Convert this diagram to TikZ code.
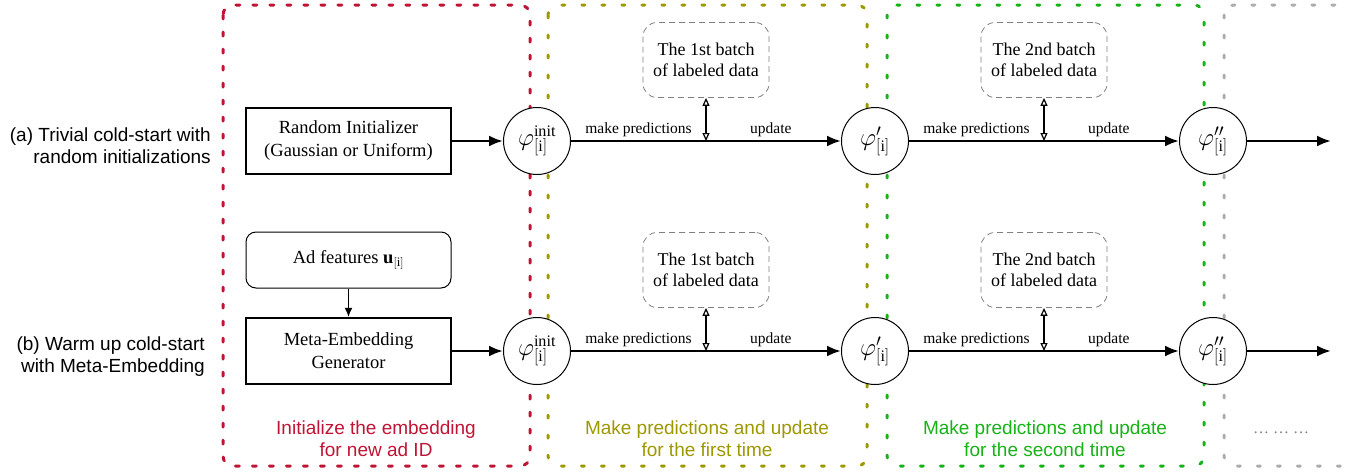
\documentclass[tikz,border=0pt]{standalone}
\usepackage{fontspec}
\setmainfont{Liberation Serif}
\newfontfamily\sflabel{Liberation Sans}
\usetikzlibrary{arrows.meta}
\definecolor{cred}{RGB}{192,20,52}
\definecolor{colive}{RGB}{158,152,0}
\definecolor{cgreen}{RGB}{22,178,22}
\definecolor{cgray}{RGB}{172,172,172}

\begin{document}
\begin{tikzpicture}
	[
	x=1pt, y=-1pt, >={Latex[length=14pt,width=11pt]},
	%Voreinstellungen
	phase/.style={line width=3pt, line cap=round, rounded corners=10pt, dash pattern=on 3pt off 17pt},
	caption/.style={font=\sflabel\fontsize{19}{22}\selectfont, align=center, inner sep=0pt},
	sidelabel/.style={font=\sflabel\fontsize{19}{22}\selectfont, align=right, inner sep=0pt, anchor=east},
	thickbox/.style={draw, line width=2.5pt, minimum width=205pt, minimum height=66pt, align=center, font=\fontsize{18.5}{23}\selectfont},
	featbox/.style={draw, line width=1pt, rounded corners=10pt, minimum width=205pt, minimum height=56pt, font=\fontsize{18.5}{23}\selectfont},
	batch/.style={draw=gray, line width=0.8pt, dash pattern=on 6pt off 4pt, rounded corners=14pt, minimum width=126pt, minimum height=75pt, align=center, font=\fontsize{18}{21}\selectfont},
	phinode/.style={draw, circle, line width=1pt, fill=white, minimum size=67pt, inner sep=0pt, font=\fontsize{23}{25}\selectfont},
	small/.style={font=\fontsize{15.5}{18}\selectfont, inner sep=3pt},
	main/.style={line width=2.5pt},
	]
	\useasboundingbox (0,0) rectangle (1348,472);

	%Phasen
	\draw [phase, cred, dash pattern=on 4pt off 13pt] (223,5) rectangle (530,466);
	\draw [phase, colive] (548,5) rectangle (867,466);
	\draw [phase, cgreen] (887,5) rectangle (1204,466);
	\begin{scope}
		\clip (0,0) rectangle (1348,472);
		\draw [phase, cgray] (1224,5) rectangle (1400,466);
	\end{scope}

	\node [caption, cred] (capinit) at (376,439) {Initialize the embedding\\for new ad ID};
	\node [caption, colive] (capfirst) at (707,439) {Make predictions and update\\for the first time};
	\node [caption, cgreen] (capsecond) at (1045,439) {Make predictions and update\\for the second time};
	\node [gray, font=\fontsize{16}{18}\selectfont] (dots) at (1281,433) {… … …};

	%Beschriftung links
	\node [sidelabel] (labela) at (211,146) {(a) Trivial cold-start with\\random initializations};
	\node [sidelabel] (labelb) at (205,357) {(b) Warm up cold-start\\with Meta-Embedding};

	%Initialisierung
	\node [thickbox] (rand) at (348.5,141) {Random Initializer\\(Gaussian or Uniform)};
	\node [featbox] (feat) at (348.5,260) {Ad features $\mathbf{u}_{[\mathrm{i}]}$};
	\node [thickbox] (meta) at (348.5,351) {Meta-Embedding\\Generator};
	\draw [-{Latex[length=9pt,width=8pt]}, line width=1pt] (feat) -- (meta);

	%Zeilen a und b
	\foreach \r/\y in {a/141,b/351}
	{
		\node [phinode] (p0\r) at (537,\y) {$\varphi^{\mathrm{init}}_{[\mathrm{i}]}$};
		\node [phinode] (p1\r) at (875,\y) {$\varphi'_{[\mathrm{i}]}$};
		\node [phinode] (p2\r) at (1213,\y) {$\varphi''_{[\mathrm{i}]}$};
		\coordinate (end\r) at (1331,\y);
		\node [batch] (b1\r) at (706,\y-81) {The 1st batch\\of labeled data};
		\node [batch] (b2\r) at (1044,\y-81) {The 2nd batch\\of labeled data};
		\draw [->, main] (p0\r) -- (p1\r) node [small, pos=0.25, above] {make predictions} node [small, pos=0.74, above] {update} coordinate [pos=0.5] (m1\r);
		\draw [->, main] (p1\r) -- (p2\r) node [small, pos=0.25, above] {make predictions} node [small, pos=0.74, above] {update} coordinate [pos=0.5] (m2\r);
		\draw [->, main] (p2\r) -- (end\r);
		\draw [{Triangle[open,length=8pt,width=7pt]}-{Triangle[open,length=8pt,width=7pt]}, line width=1.2pt] (b1\r) -- (m1\r);
		\draw [{Triangle[open,length=8pt,width=7pt]}-{Triangle[open,length=8pt,width=7pt]}, line width=1.2pt] (b2\r) -- (m2\r);
	}
	\draw [->, main] (rand) -- (p0a);
	\draw [->, main] (meta) -- (p0b);
\end{tikzpicture}
\end{document}
